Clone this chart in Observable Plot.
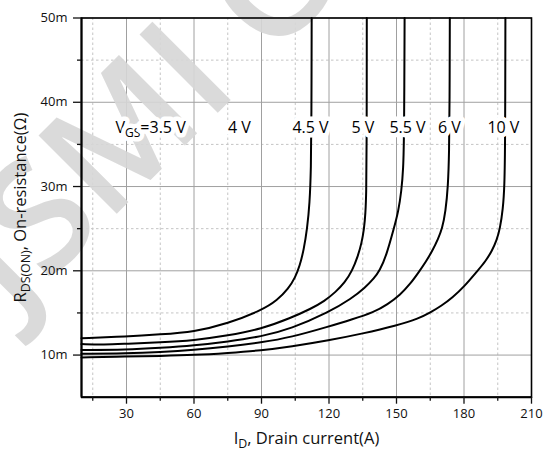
<!DOCTYPE html>
<html><head><meta charset="utf-8">
<script src="https://cdn.jsdelivr.net/npm/d3@7"></script>
<script src="https://cdn.jsdelivr.net/npm/@observablehq/plot@0.6"></script>
<style>body{margin:0;background:#fff;} #chart{width:543px;height:456px;}</style>
</head><body><div id="chart"></div>
<script>
// ---- data ----
const seriesNames = ["4.5 V", "5 V", "5.5 V", "6 V", "10 V"];
const id45 = [10, 30, 45, 60, 75, 90, 97, 102, 105, 107, 108.8, 110.3, 111.4, 112, 112.2, 112.3];
const rds45 = [12.0, 12.2, 12.45, 12.75, 13.75, 15.3, 16.5, 17.9, 19.2, 20.6, 22.5, 25, 28, 32, 38, 50];
const id5 = [10, 20, 30, 45, 60, 75, 90, 103, 112, 118, 123, 127, 130.3, 132.8, 134.5, 135.6, 136.2, 136.55, 136.75, 136.8];
const rds5 = [11.3, 11.22, 11.35, 11.5, 11.75, 12.3, 13.1, 14.4, 15.5, 16.4, 17.5, 18.6, 20, 21.7, 23.3, 25, 26.8, 29, 34, 50];
const id55 = [10, 30, 45, 60, 75, 90, 103, 120, 130, 136, 140, 142.5, 145.5, 148.8, 150.8, 152.2, 153, 153.4, 153.6];
const rds55 = [10.6, 10.62, 10.85, 11.13, 11.6, 12.2, 13.1, 15.1, 16.7, 18.0, 19.1, 20, 21.8, 25, 27, 29.5, 32, 36, 50];
const id6 = [10, 30, 45, 60, 75, 90, 103, 120, 130, 140, 146, 151.8, 156, 160.3, 163, 166, 168.5, 170.3, 171.8, 172.9, 173.4, 173.6, 173.7];
const rds6 = [10.15, 10.2, 10.35, 10.6, 11.0, 11.5, 12.1, 13.4, 14.2, 15.1, 16.0, 17.2, 18.4, 20, 21.05, 22.4, 23.8, 25, 27, 30, 34, 40, 50];
const id10 = [10, 30, 45, 60, 75, 90, 103, 120, 135, 150, 160, 165, 170, 175, 180, 186, 189.5, 192.5, 194.5, 196, 197.3, 198, 198.3, 198.4];
const rds10 = [9.72, 9.82, 9.9, 10.0, 10.25, 10.55, 11.0, 11.75, 12.55, 13.5, 14.35, 15.05, 15.85, 16.85, 18.1, 20, 21.1, 22.4, 23.6, 25, 27.3, 30, 35, 50];

const labelTexts = ["V_{GS}=3.5 V", "4 V", "4.5 V", "5 V", "5.5 V", "6 V", "10 V"];
const labelIds = [40.7, 80.2, 111.8, 135.1, 154.9, 173.5, 197.5];
const labelRds = 37;

const xTicks = [30, 60, 90, 120, 150, 180, 210];
const xMinor = [15, 45, 75, 105, 135, 165, 195];
const yTicks = [10, 20, 30, 40, 50];
const yMinor = [15, 25, 35, 45];
const xLabel = "I_{D}, Drain current(A)";
const yLabel = "R_{DS(ON)}, On-resistance(Ω)";
const watermark = "JSMI C";

// ---- build table ----
const xs = [id45, id5, id55, id6, id10];
const ys = [rds45, rds5, rds55, rds6, rds10];
const curves = seriesNames.flatMap((s, i) => xs[i].map((x, j) => ({series: s, id: x, rds: ys[i][j]})));
const labels = labelTexts.map((t, i) => ({text: t, id: labelIds[i], rds: labelRds}));

const FONT = "Open Sans";
const plot = Plot.plot({
  width: 543, height: 456,
  marginLeft: 81, marginRight: 12, marginTop: 17.5, marginBottom: 59.3,
  style: {fontFamily: FONT, fontSize: "13px", color: "#111", background: "#fff"},
  x: {domain: [10, 210]},
  y: {domain: [5, 50]},
  marks: [
    Plot.gridX(xMinor, {stroke: "#c4c4c4", strokeOpacity: 1, strokeDasharray: "2.5,2.5"}),
    Plot.gridY(yMinor, {stroke: "#c4c4c4", strokeOpacity: 1, strokeDasharray: "2.5,2.5"}),
    Plot.gridX(xTicks, {stroke: "#a0a0a0", strokeOpacity: 1}),
    Plot.gridY(yTicks, {stroke: "#a0a0a0", strokeOpacity: 1}),
    Plot.text([watermark], {frameAnchor: "top-left", dx: -68, dy: 299, rotate: -45, textAnchor: "start",
      lineAnchor: "bottom", fontSize: 155, fontWeight: 600, fill: "#d6d6d6", fillOpacity: 0.9, fontFamily: FONT}),
    Plot.line(curves, {x: "id", y: "rds", z: "series", stroke: "#000", strokeWidth: 2, curve: "basis"}),
    Plot.text(labels, {x: "id", y: "rds", text: "text", fontSize: 16, fill: "#000", stroke: "#fff", strokeWidth: 9, strokeLinejoin: "round"}),
    Plot.frame({stroke: "#000", strokeWidth: 1.6}),
    Plot.ruleX([10], {stroke: "#000", strokeWidth: 2}),
    Plot.ruleY([5], {stroke: "#000", strokeWidth: 2}),
    Plot.axisX(xTicks, {tickSize: 7, tickPadding: 5, strokeWidth: 1.3, label: null, fontSize: 13}),
    Plot.axisX(xMinor, {tickSize: 4, tickFormat: () => "", strokeWidth: 1.3, label: null}),
    Plot.axisY(yTicks, {tickSize: 8, tickPadding: 6, strokeWidth: 1.3, label: null, tickFormat: d => d + "m", fontSize: 13}),
    Plot.axisY(yMinor, {tickSize: 4, tickFormat: () => "", strokeWidth: 1.3, label: null}),
    Plot.text([xLabel], {frameAnchor: "bottom", dy: 47, fontSize: 16.5, fill: "#111", textAnchor: "middle"}),
    Plot.text([yLabel], {frameAnchor: "left", dx: -61, dy: 0, rotate: -90, fontSize: 16.5, fill: "#111", textAnchor: "middle"})
  ]
});

// subscripts: turn "_{...}" into real subscript tspans
d3.select(plot).selectAll("text").each(function () {
  const t = this.textContent;
  if (!t.includes("_{")) return;
  const sel = d3.select(this);
  sel.text(null);
  const parts = t.split(/(_\{[^}]*\})/).filter(p => p.length);
  let sub = false;
  parts.forEach(p => {
    if (p.startsWith("_{")) {
      sel.append("tspan").attr("dy", "4").attr("font-size", "0.75em").text(p.slice(2, -1));
      sub = true;
    } else {
      const ts = sel.append("tspan").text(p);
      if (sub) { ts.attr("dy", "-4"); sub = false; }
    }
  });
});

document.getElementById("chart").appendChild(plot);
</script>
</body></html>
